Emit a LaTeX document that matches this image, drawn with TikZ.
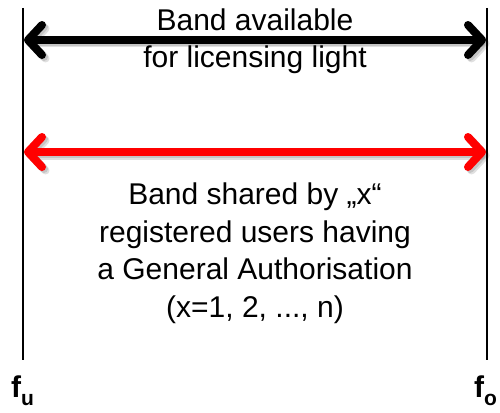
\documentclass[tikz,border=0pt]{standalone}
\usepackage{fontspec}
\setmainfont{Liberation Sans}
\usetikzlibrary{arrows.meta}
\newcommand{\freqsub}[1]{\raisebox{-0.28em}{\fontsize{21}{21}\selectfont #1}}
\begin{document}
\begin{tikzpicture}[x=1pt,y=-1pt,
  bandline/.style={line width=1.2pt,black},
  band/.style={line width=8pt,line cap=round,
    {Straight Barb[round,length=14pt,width=30pt]}-{Straight Barb[round,length=14pt,width=30pt]}},
  bandshadow/.style={band,black,opacity=0.12},
  label/.style={font=\fontsize{30}{37.5}\selectfont,align=center,inner sep=0pt},
  freq/.style={font=\fontsize{30}{36}\selectfont\bfseries,inner sep=0pt}]
  \useasboundingbox (0,0) rectangle (500,412);
  % band edges
  \coordinate (ut) at (23,8);
  \coordinate (ub) at (23,360);
  \coordinate (ot) at (487,8);
  \coordinate (ob) at (487,360);
  \draw[bandline] (ut) -- (ub);
  \draw[bandline] (ot) -- (ob);
  % arrow end points
  \coordinate (la) at (24,40);
  \coordinate (ra) at (486,40);
  \coordinate (lb) at (24,152);
  \coordinate (rb) at (486,152);
  % soft shadows
  \foreach \d in {2,3.5} {
    \draw[bandshadow] ([shift={(\d,\d)}]la) -- ([shift={(\d,\d)}]ra);
    \draw[bandshadow] ([shift={(\d,\d)}]lb) -- ([shift={(\d,\d)}]rb);
  }
  \draw[band,black] (la) -- (ra);
  \draw[band,red] (lb) -- (rb);
  % labels
  \node[label] (light) at (255,41) {Band available\\for licensing light};
  \node[label] (general) at (255,253) {Band shared by „x“\\registered users having\\a General Authorisation\\(x=1, 2, ..., n)};
  \node[freq,anchor=base west] (fu) at (11,397) {f\freqsub{u}};
  \node[freq,anchor=base west] (fo) at (474,397) {f\freqsub{o}};
\end{tikzpicture}
\end{document}
